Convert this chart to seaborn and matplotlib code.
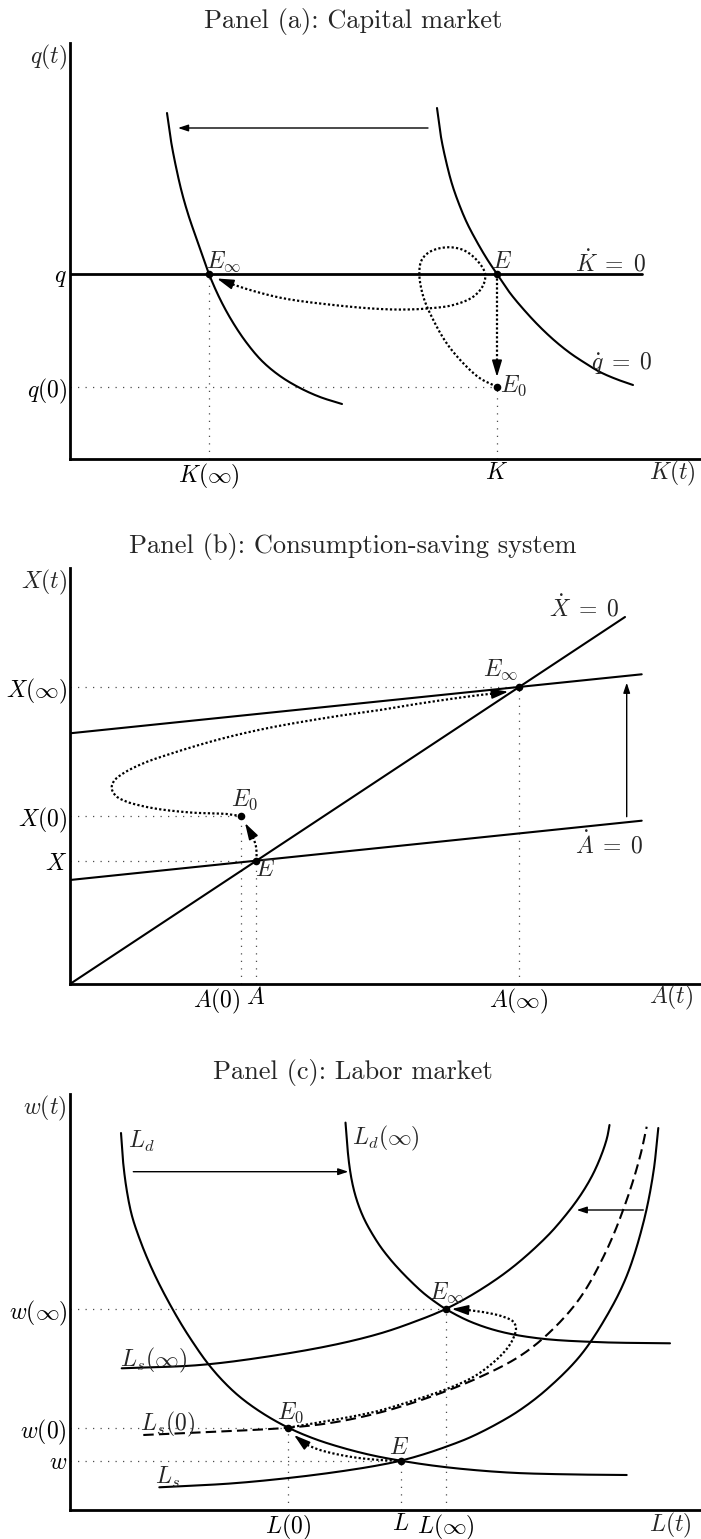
import numpy as np
import matplotlib
matplotlib.use("Agg")
import matplotlib.pyplot as plt
import seaborn as sns

# ---------------- Panel (a): capital market ----------------
a_title = "Panel (a): Capital market"
a_xticks = [139, 427]
a_xlabels = [r"$K(\infty)$", r"$K$"]
a_yticks = [72.3, 185]
a_ylabels = [r"$q(0)$", r"$q$"]
a_eq_K = [139, 427, 427]
a_eq_q = [185, 185, 72.3]

# qdot = 0 locus after the shock (left) and before (right)
a_qdot_new_K = [97, 101, 106, 112, 119, 127, 139, 150, 162, 176, 192, 210, 230, 250, 272]
a_qdot_new_q = [346, 318, 292, 266, 242, 219, 185, 160, 138, 117, 98, 83, 71, 62, 55]
a_qdot_old_K = [367, 371, 376, 382, 389, 397, 407, 417, 427, 440, 455, 470, 485, 500, 515, 530, 546, 563]
a_qdot_old_q = [351, 322, 298, 275, 255, 236, 217, 200, 185, 166, 148, 132, 118, 106, 96, 87, 80, 74]
a_kdot_K = [0, 571.7]
a_kdot_q = [185, 185]

# adjustment path: jump E -> E0, then loop towards E_inf
a_jump_K = [427, 427]
a_jump_q = [185, 94]
a_path_K = [426.7, 410, 393.3, 376.7, 363.3, 353.3, 349.3, 351.7, 360, 376.7, 393.3, 406.7, 415,
            413.3, 403.3, 383.3, 360, 336.7, 310, 263.3, 213.3, 180, 163]
a_path_q = [72.3, 80.7, 95.7, 115.7, 139, 162.3, 185.7, 199, 207.3, 211.7, 209, 199, 185.7,
            174, 162.3, 154, 150.7, 149.5, 150, 154, 160.7, 169, 174.5]

# ---------------- Panel (b): consumption-saving system ----------------
b_title = "Panel (b): Consumption-saving system"
b_xticks = [171, 186, 449]
b_xlabels = [r"$A(0)$", r"$A$", r"$A(\infty)$"]
b_yticks = [123, 168, 297]
b_ylabels = [r"$X$", r"$X(0)$", r"$X(\infty)$"]
b_eq_A = [186, 171, 449]
b_eq_X = [123, 168, 297]

b_xdot_A = [0, 555]
b_xdot_X = [0, 367]
b_adot_old_A = [0, 571.7]
b_adot_old_X = [104, 163.3]
b_adot_new_A = [0, 571.7]
b_adot_new_X = [250.7, 309.7]

b_jump_A = [186.7, 186, 183.3, 180]
b_jump_X = [123.3, 137.3, 145.7, 152.3]
b_path_A = [171, 156.7, 123.3, 90, 70, 56.7, 46, 41.7, 44, 53.3, 73.3, 96.7, 146.7, 196.7,
            263.3, 310, 343.3, 376.7, 410, 424]
b_path_X = [168, 170, 171.3, 174.7, 178.5, 182.3, 188, 195.7, 203, 210.7, 220.7, 229, 244, 255.7,
            267.3, 274, 279.5, 284.5, 289, 290.5]

# ---------------- Panel (c): labor market ----------------
c_title = "Panel (c): Labor market"
c_xticks = [218.3, 330.7, 375.7]
c_xlabels = [r"$L(0)$", r"$L$", r"$L(\infty)$"]
c_yticks = [49.3, 82.3, 201]
c_ylabels = [r"$w$", r"$w(0)$", r"$w(\infty)$"]
c_eq_L = [330.7, 218.3, 375.7]
c_eq_w = [49.3, 82.3, 201]

c_ld_L = [51, 53, 56.7, 62, 70, 78, 86.7, 97, 110, 122, 136.7, 152, 170, 193, 218.3, 245, 275,
          303, 330.7, 360, 395, 443, 500, 556.7]
c_ld_w = [377, 349, 320, 294, 270, 250, 231, 211, 188, 169, 148, 130, 113, 96.5, 82.3, 71, 61.5,
          54.5, 49.3, 44.8, 40.8, 37.2, 35.6, 35]
c_ldinf_L = [275.5, 277.5, 279.5, 282, 285, 289, 294, 300, 310, 320, 330, 341.5, 353.3, 364.5,
             375.7, 400, 430, 470, 530, 600]
c_ldinf_w = [387.4, 361.4, 343.4, 328.4, 315.8, 303.4, 291.4, 280, 264, 251, 239.7, 228, 217.1,
             208.5, 201, 188.5, 178.5, 171.5, 167.8, 166.7]
c_ls_L = [89.3, 163.3, 230, 280, 310, 330.7, 353, 376.7, 400, 426.7, 450, 476.7, 510, 536.7,
          556.7, 573.3, 583.3, 588.3]
c_ls_w = [22.7, 26.7, 33.3, 40, 45, 49.3, 55.5, 63.5, 72.6, 86, 100, 120.6, 154, 194, 234, 287,
          337, 382]
c_lsinf_L = [51.7, 130, 196.7, 263.3, 310, 343.3, 375.7, 410, 443.3, 476.7, 495, 510, 522, 531,
             537, 539.5]
c_lsinf_w = [141.7, 145, 153.3, 165, 176.5, 187.8, 201, 220, 243.3, 273.3, 294, 314, 334, 354,
             372, 385]
c_ls0_L = [73.3, 146.7, 218.3, 263.3, 310, 360, 410, 450, 480, 510, 536.7, 556.7, 570, 576.7]
c_ls0_w = [75, 78.3, 82.3, 87.5, 97.5, 113, 133, 154, 178, 212, 260, 310, 353.3, 383.3]

c_jump_L = [330.7, 310, 280, 250, 235]
c_jump_w = [49.3, 50, 53.3, 60, 66]
c_path_L = [218.3, 240, 263.3, 290, 310, 343.3, 376.7, 403.3, 423.3, 436.7, 443.3, 446, 443.3,
            433.3, 416.7, 398]
c_path_w = [82.3, 86, 90, 95, 99.5, 109.5, 121, 133, 147.5, 161, 171.7, 181.7, 188.3,
            193.3, 197.3, 200]

# ---------------- style ----------------
sns.set_theme(style="white")
plt.rcParams.update({
    "font.family": "serif",
    "font.serif": ["cmr10"],
    "mathtext.fontset": "cm",
    "axes.formatter.use_mathtext": True,
    "axes.unicode_minus": False,
})

INK = "black"
GUIDE = (0, (1, 5))
TRAJ = (0, (1, 1))
DASH = (0, (5, 2.5))
FS = 17


def catmull_rom(xs, ys, steps=16):
    """Centripetal Catmull-Rom curve through the given nodes (drawing aid only)."""
    P = np.column_stack([xs, ys]).astype(float)
    if len(P) < 3:
        return P[:, 0], P[:, 1]
    P = np.vstack([2 * P[0] - P[1], P, 2 * P[-1] - P[-2]])
    out = []
    for i in range(1, len(P) - 2):
        p0, p1, p2, p3 = P[i - 1], P[i], P[i + 1], P[i + 2]
        t0 = 0.0
        t1 = t0 + max(np.linalg.norm(p1 - p0), 1e-6) ** 0.5
        t2 = t1 + max(np.linalg.norm(p2 - p1), 1e-6) ** 0.5
        t3 = t2 + max(np.linalg.norm(p3 - p2), 1e-6) ** 0.5
        for t in np.linspace(t1, t2, steps, endpoint=False):
            a1 = (t1 - t) / (t1 - t0) * p0 + (t - t0) / (t1 - t0) * p1
            a2 = (t2 - t) / (t2 - t1) * p1 + (t - t1) / (t2 - t1) * p2
            a3 = (t3 - t) / (t3 - t2) * p2 + (t - t2) / (t3 - t2) * p3
            b1 = (t2 - t) / (t2 - t0) * a1 + (t - t0) / (t2 - t0) * a2
            b2 = (t3 - t) / (t3 - t1) * a2 + (t - t1) / (t3 - t1) * a3
            out.append((t2 - t) / (t2 - t1) * b1 + (t - t1) / (t2 - t1) * b2)
    out.append(P[-2])
    out = np.array(out)
    return out[:, 0], out[:, 1]


def line(ax, x, y, lw=1.5, ls="-", color=INK, z=2, smooth=True):
    if smooth:
        x, y = catmull_rom(x, y)
    sns.lineplot(x=x, y=y, ax=ax, sort=False, estimator=None, errorbar=None,
                 color=color, linewidth=lw, linestyle=ls, legend=False, zorder=z)


def guide(ax, x, y):
    line(ax, x, y, lw=0.9, ls=GUIDE, color="0.3", z=1, smooth=False)


def arrow(ax, tail, tip, hl=0.9, hw=0.3, lw=1.0):
    ax.annotate("", xy=tip, xytext=tail,
                arrowprops=dict(arrowstyle=f"-|>,head_length={hl},head_width={hw}",
                                color=INK, lw=lw, shrinkA=0, shrinkB=0, mutation_scale=10),
                zorder=4)


def dots(ax, x, y):
    sns.scatterplot(x=x, y=y, ax=ax, color=INK, s=30, linewidth=0, zorder=6, legend=False)


def label(ax, x, y, s):
    ax.text(x, y, s, ha="center", va="center", fontsize=FS, zorder=7)


def setup(ax, title, xt, xl, yt, yl, xname, yname, xname_pos):
    ax.set_xlim(0, 631)
    ax.set_ylim(0, 416)
    for s in ["top", "right"]:
        ax.spines[s].set_visible(False)
    for s in ["left", "bottom"]:
        ax.spines[s].set_linewidth(2.0)
        ax.spines[s].set_color(INK)
    ax.set_xticks(xt)
    ax.set_xticklabels(xl)
    ax.set_yticks(yt)
    ax.set_yticklabels(yl)
    ax.tick_params(length=0, labelsize=FS, pad=2, colors=INK)
    ax.set_xlabel("")
    ax.set_ylabel("")
    ax.text(-0.005, 1.0, yname, transform=ax.transAxes, ha="right", va="top", fontsize=FS)
    ax.text(xname_pos[0], xname_pos[1], xname, transform=ax.transAxes,
            ha="center", va="center", fontsize=FS)
    ax.text(0.4485, 1.0505, title, transform=ax.transAxes, ha="center", va="center", fontsize=19)


fig = plt.figure(figsize=(7.01, 15.39), dpi=100)
W, H = 701, 1539
ax_a = fig.add_axes([70 / W, (H - 459) / H, 631 / W, 416 / H])
ax_b = fig.add_axes([70 / W, (H - 984) / H, 631 / W, 416 / H])
ax_c = fig.add_axes([70 / W, (H - 1510) / H, 631 / W, 416 / H])

EQ0 = r"\;=\;0$"

# ---- panel (a)
ax = ax_a
guide(ax, [0, 427], [72.3, 72.3])
guide(ax, [139, 139], [0, 185])
guide(ax, [427, 427], [0, 72.3])
line(ax, a_qdot_new_K, a_qdot_new_q)
line(ax, a_qdot_old_K, a_qdot_old_q)
line(ax, a_kdot_K, a_kdot_q, lw=2.0, smooth=False)
line(ax, a_jump_K, a_jump_q, lw=1.6, ls=TRAJ, z=3, smooth=False)
arrow(ax, (427, 94), (427, 82), hl=1.0, hw=0.3, lw=1.2)
line(ax, a_path_K, a_path_q, lw=1.6, ls=TRAJ, z=3)
arrow(ax, (163, 174.5), (147, 180.5), hl=1.0, hw=0.3, lw=1.2)
arrow(ax, (358, 331), (108, 331), hl=0.6, hw=0.2, lw=1.0)
dots(ax, a_eq_K, a_eq_q)
label(ax, 153.7, 197, r"$E_\infty$")
label(ax, 432.5, 197.3, r"$E$")
label(ax, 443.3, 73, r"$E_0$")
label(ax, 540.8, 195.7, r"$\dot{K}" + EQ0)
label(ax, 551.7, 96.5, r"$\dot{q}" + EQ0)
setup(ax, a_title, a_xticks, a_xlabels, a_yticks, a_ylabels, r"$K(t)$", r"$q(t)$",
      (0.954, -0.034))

# ---- panel (b)
ax = ax_b
guide(ax, [0, 449], [297, 297])
guide(ax, [0, 171], [168, 168])
guide(ax, [0, 186], [123, 123])
guide(ax, [171, 171], [0, 168])
guide(ax, [186, 186], [0, 123])
guide(ax, [449, 449], [0, 297])
line(ax, b_xdot_A, b_xdot_X, smooth=False)
line(ax, b_adot_old_A, b_adot_old_X, smooth=False)
line(ax, b_adot_new_A, b_adot_new_X, smooth=False)
line(ax, b_jump_A, b_jump_X, lw=1.6, ls=TRAJ, z=3)
arrow(ax, (180, 152.3), (175, 161), hl=1.0, hw=0.3, lw=1.2)
line(ax, b_path_A, b_path_X, lw=1.6, ls=TRAJ, z=3)
arrow(ax, (424, 290.5), (438.3, 292.3), hl=1.0, hw=0.3, lw=1.2)
arrow(ax, (556.7, 167.3), (556.7, 301.3), hl=0.6, hw=0.2, lw=1.0)
dots(ax, b_eq_A, b_eq_X)
label(ax, 430.8, 314, r"$E_\infty$")
label(ax, 174.5, 184, r"$E_0$")
label(ax, 195, 114, r"$E$")
label(ax, 514.2, 375.7, r"$\dot{X}" + EQ0)
label(ax, 539.7, 139, r"$\dot{A}" + EQ0)
setup(ax, b_title, b_xticks, b_xlabels, b_yticks, b_ylabels, r"$A(t)$", r"$X(t)$",
      (0.9525, -0.0325))
lab = ax.get_xticklabels()
lab[0].set_horizontalalignment("right")

# ---- panel (c)
ax = ax_c
guide(ax, [0, 375.7], [201, 201])
guide(ax, [0, 218.3], [82.3, 82.3])
guide(ax, [0, 330.7], [49.3, 49.3])
guide(ax, [218.3, 218.3], [0, 82.3])
guide(ax, [330.7, 330.7], [0, 49.3])
guide(ax, [375.7, 375.7], [0, 201])
line(ax, c_ld_L, c_ld_w)
line(ax, c_ldinf_L, c_ldinf_w)
line(ax, c_ls_L, c_ls_w)
line(ax, c_lsinf_L, c_lsinf_w)
line(ax, c_ls0_L, c_ls0_w, ls=DASH)
line(ax, c_jump_L, c_jump_w, lw=1.6, ls=TRAJ, z=3)
arrow(ax, (235, 66), (224, 75), hl=1.0, hw=0.3, lw=1.2)
line(ax, c_path_L, c_path_w, lw=1.6, ls=TRAJ, z=3)
arrow(ax, (398, 200), (381.7, 201), hl=1.0, hw=0.3, lw=1.2)
arrow(ax, (63.3, 338.3), (278.3, 338.3), hl=0.6, hw=0.2, lw=1.0)
arrow(ax, (573.3, 300), (506.7, 300), hl=0.6, hw=0.2, lw=1.0)
dots(ax, c_eq_L, c_eq_w)
label(ax, 71.3, 368.3, r"$L_d$")
label(ax, 315.6, 371.7, r"$L_d(\infty)$")
label(ax, 83.3, 150, r"$L_s(\infty)$")
label(ax, 97.5, 86, r"$L_s(0)$")
label(ax, 97, 32.5, r"$L_s$")
label(ax, 220.8, 96.7, r"$E_0$")
label(ax, 328.8, 61.7, r"$E$")
label(ax, 376.7, 216.7, r"$E_\infty$")
setup(ax, c_title, c_xticks, c_xlabels, c_yticks, c_ylabels, r"$L(t)$", r"$w(t)$",
      (0.951, -0.036))

fig.savefig("out.png", dpi=100, facecolor="white")
